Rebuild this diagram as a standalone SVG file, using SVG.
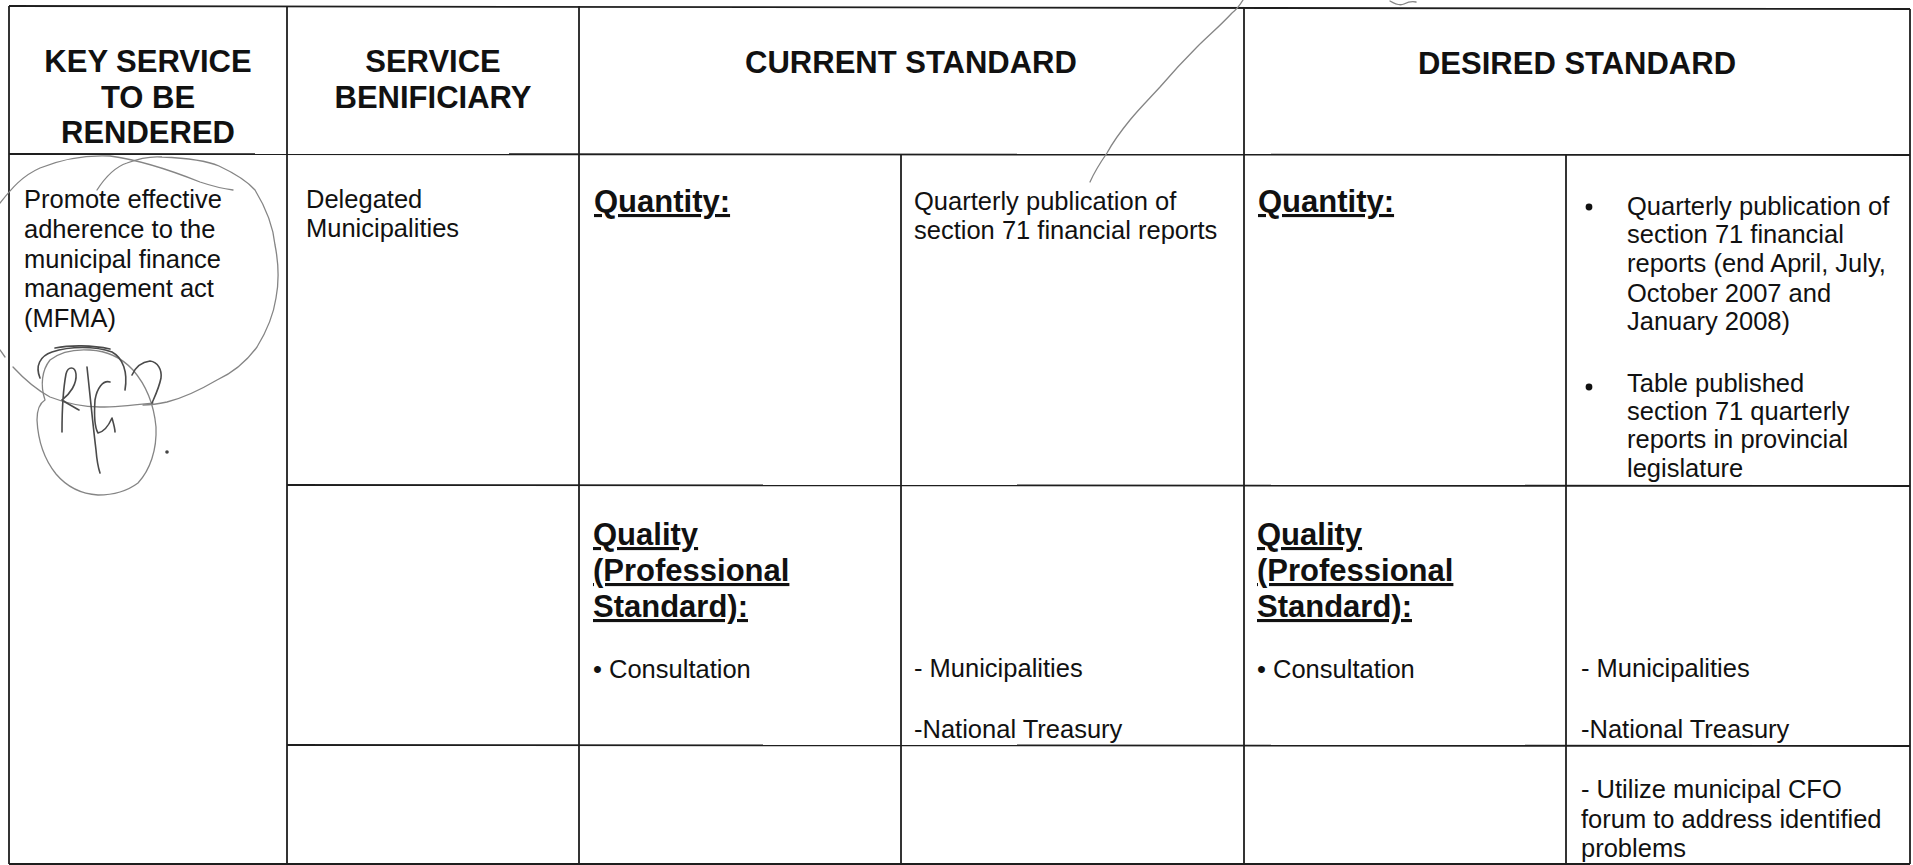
<svg xmlns="http://www.w3.org/2000/svg" width="1913" height="865" viewBox="0 0 1913 865">
<style>
.bg{fill:#ffffff}
.grid line{stroke:#1e1e1e;stroke-width:1.8}
.h{font-family:"Liberation Sans",Arial,sans-serif;font-size:31px;font-weight:bold;fill:#111;text-anchor:middle}
.t{font-family:"Liberation Sans",Arial,sans-serif;font-size:25.5px;fill:#111}
.b{font-family:"Liberation Sans",Arial,sans-serif;font-size:31px;font-weight:bold;fill:#111;text-decoration:underline}
.ink{fill:none;stroke:#858585;stroke-width:1.3;stroke-linecap:round;stroke-linejoin:round}
.dk{fill:none;stroke:#4a4a4a;stroke-width:1.6;stroke-linecap:round;stroke-linejoin:round}
</style>
<rect class="bg" x="0" y="0" width="1913" height="865"/>
<g id="connectors" class="grid">
<line x1="9" y1="6" x2="1910" y2="9"/>
<line x1="9" y1="154" x2="1910" y2="155"/>
<line x1="287" y1="485" x2="1910" y2="486"/>
<line x1="287" y1="745" x2="1910" y2="746"/>
<line x1="9" y1="864" x2="1910" y2="864"/>
<line x1="9" y1="6" x2="9" y2="864"/>
<line x1="287" y1="6" x2="287" y2="864"/>
<line x1="579" y1="6" x2="579" y2="864"/>
<line x1="901" y1="154" x2="901" y2="864"/>
<line x1="1244" y1="7" x2="1244" y2="864"/>
<line x1="1566" y1="155" x2="1566" y2="864"/>
<line x1="1910" y1="9" x2="1910" y2="864"/>
</g>
<g id="hdr-key">
<text class="h" x="148" y="72">KEY SERVICE</text>
<text class="h" x="148" y="108">TO BE</text>
<text class="h" x="148" y="143">RENDERED</text>
</g>
<g id="hdr-beneficiary">
<text class="h" x="433" y="72">SERVICE</text>
<text class="h" x="433" y="108">BENIFICIARY</text>
</g>
<g id="hdr-current">
<text class="h" x="911" y="73">CURRENT STANDARD</text>
</g>
<g id="hdr-desired">
<text class="h" x="1577" y="74">DESIRED STANDARD</text>
</g>
<g id="key-service">
<text class="t" x="24" y="208">Promote effective</text>
<text class="t" x="24" y="238">adherence to the</text>
<text class="t" x="24" y="268">municipal finance</text>
<text class="t" x="24" y="297">management act</text>
<text class="t" x="24" y="327">(MFMA)</text>
</g>
<g id="beneficiary">
<text class="t" x="306" y="208">Delegated</text>
<text class="t" x="306" y="237">Municipalities</text>
</g>
<g id="cur-quantity">
<text class="b" x="594" y="212">Quantity:</text>
</g>
<g id="cur-quantity-value">
<text class="t" x="914" y="210">Quarterly publication of</text>
<text class="t" x="914" y="239">section 71 financial reports</text>
</g>
<g id="des-quantity">
<text class="b" x="1258" y="212">Quantity:</text>
</g>
<g id="des-quantity-value">
<circle cx="1589" cy="207" r="3.4" fill="#111"/>
<text class="t" x="1627" y="215">Quarterly publication of</text>
<text class="t" x="1627" y="243">section 71 financial</text>
<text class="t" x="1627" y="272">reports (end April, July,</text>
<text class="t" x="1627" y="302">October 2007 and</text>
<text class="t" x="1627" y="330">January 2008)</text>
<circle cx="1589" cy="387" r="3.4" fill="#111"/>
<text class="t" x="1627" y="392">Table published</text>
<text class="t" x="1627" y="420">section 71 quarterly</text>
<text class="t" x="1627" y="448">reports in provincial</text>
<text class="t" x="1627" y="477">legislature</text>
</g>
<g id="cur-quality">
<text class="b" x="593" y="545">Quality</text>
<text class="b" x="593" y="581">(Professional</text>
<text class="b" x="593" y="617">Standard):</text>
<text class="t" x="593" y="678">• Consultation</text>
</g>
<g id="cur-quality-value">
<text class="t" x="914" y="677">- Municipalities</text>
<text class="t" x="914" y="738">-National Treasury</text>
</g>
<g id="des-quality">
<text class="b" x="1257" y="545">Quality</text>
<text class="b" x="1257" y="581">(Professional</text>
<text class="b" x="1257" y="617">Standard):</text>
<text class="t" x="1257" y="678">• Consultation</text>
</g>
<g id="des-quality-value">
<text class="t" x="1581" y="677">- Municipalities</text>
<text class="t" x="1581" y="738">-National Treasury</text>
</g>
<g id="des-forum">
<text class="t" x="1581" y="798">- Utilize municipal CFO</text>
<text class="t" x="1581" y="828">forum to address identified</text>
<text class="t" x="1581" y="857">problems</text>
</g>
<g id="handwriting">
<path class="ink" d="M0,203 C12,188 22,176 40,168 C62,159 88,155 110,156 C140,160 170,170 200,182 C212,186 225,189 233,190"/>
<path class="ink" d="M97,190 C106,176 115,167 127,163 C140,158 150,156 162,157 C185,158 205,160 219,166 C236,174 248,182 255,190 C266,208 273,225 275,245 C279,265 279,282 276,298 C273,318 265,334 257,347 C246,362 232,373 217,380 C200,390 183,398 167,402 C158,404 150,405 143,405"/>
<path class="ink" d="M13,367 C25,380 37,390 50,397 C68,404 84,407 100,407 C118,407 135,405 153,403"/>
<path class="ink" d="M0,350 L5,357"/>
<path class="ink" d="M45,400 C40,385 42,370 50,360 C60,352 75,349 90,350 C108,351 122,358 133,370 C146,385 154,405 156,427 C157,450 150,470 138,483 C126,492 112,495 98,495 C82,494 67,487 56,474 C44,459 38,440 37,420 C37,410 40,403 45,400"/>
<path class="dk" d="M55,348 C70,345 92,345 110,349"/>
<path class="dk" d="M40,378 C35,366 40,356 52,352 C70,346 95,346 112,352 C123,358 128,372 125,390"/>
<path class="dk" d="M62,432 C62,410 63,390 66,374 C68,366 75,366 76,374 C77,384 70,394 62,400 C68,404 74,407 79,410"/>
<path class="dk" d="M87,367 C90,395 93,425 96,450 C97,462 99,470 100,473"/>
<path class="dk" d="M110,382 C103,380 97,388 95,400 C94,415 95,428 98,433 C103,432 108,427 112,418 C114,425 115,430 115,432"/>
<path class="dk" d="M132,375 C136,366 142,362 150,361 C158,362 162,370 161,378 C159,388 155,396 152,403"/>
<circle cx="167" cy="452" r="1.8" fill="#444"/>
<path class="ink" d="M1243,0 C1240,5 1236,10 1232,13 C1220,26 1208,36 1197,47 C1184,60 1172,73 1160,87 C1149,99 1139,109 1130,120 C1121,131 1113,142 1107,153 C1100,163 1094,173 1090,182"/>
<path class="ink" d="M1390,1 C1395,4 1400,6 1404,4 C1408,2 1412,1 1416,2"/>
</g>
</svg>
